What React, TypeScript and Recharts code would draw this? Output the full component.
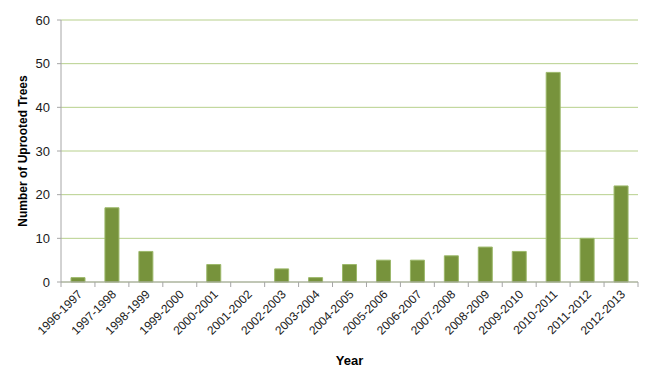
import React from 'react';
import { BarChart, Bar, XAxis, YAxis, CartesianGrid } from 'recharts';

const years = [
  '1996-1997', '1997-1998', '1998-1999', '1999-2000', '2000-2001', '2001-2002',
  '2002-2003', '2003-2004', '2004-2005', '2005-2006', '2006-2007', '2007-2008',
  '2008-2009', '2009-2010', '2010-2011', '2011-2012', '2012-2013',
];
const uprootedTrees = [1, 17, 7, 0, 4, 0, 3, 1, 4, 5, 5, 6, 8, 7, 48, 10, 22];
const yTicks = [0, 10, 20, 30, 40, 50, 60];

const data = years.map((year, i) => ({ year, trees: uprootedTrees[i] }));

const WIDTH = 650;
const HEIGHT = 374;
const MARGIN = { top: 20, right: 12, left: 0, bottom: 0 };
const Y_AXIS_WIDTH = 61;
const BAND = (WIDTH - MARGIN.left - MARGIN.right - Y_AXIS_WIDTH) / years.length;
const FONT = '"Liberation Sans", Arial, sans-serif';

// Excel-style category ticks: marks sit between the bars, labels at 45°
function YearTick(props: any) {
  const { x, y, payload, index } = props;
  const isLast = index === years.length - 1;
  return (
    <g>
      <line x1={x - BAND / 2} y1={y} x2={x - BAND / 2} y2={y + 5} stroke="#A6A6A6" />
      {isLast && <line x1={x + BAND / 2} y1={y} x2={x + BAND / 2} y2={y + 5} stroke="#A6A6A6" />}
      <text
        x={x + 5}
        y={y + 13}
        textAnchor="end"
        fill="#1a1a1a"
        fontSize={12}
        fontFamily={FONT}
        transform={`rotate(-45 ${x + 5} ${y + 13})`}
      >
        {payload.value}
      </text>
    </g>
  );
}

export default function App() {
  return (
    <div style={{ position: 'absolute', left: 0, top: 0, background: '#fff' }}>
      <BarChart width={WIDTH} height={HEIGHT} data={data} margin={MARGIN}>
        <CartesianGrid vertical={false} stroke="#B7D08C" strokeWidth={1} />
        <XAxis
          dataKey="year"
          height={HEIGHT - 282}
          interval={0}
          tickLine={false}
          tickSize={0}
          tickMargin={0}
          stroke="#A6A6A6"
          tick={<YearTick />}
          label={{
            value: 'Year',
            position: 'insideBottom',
            offset: 9,
            fill: '#000',
            fontSize: 13,
            fontWeight: 'bold',
            fontFamily: FONT,
          }}
        />
        <YAxis
          width={Y_AXIS_WIDTH}
          domain={[0, 60]}
          ticks={yTicks}
          interval={0}
          stroke="#A6A6A6"
          tickSize={4}
          tickMargin={7}
          tick={{ fill: '#1a1a1a', fontSize: 13, fontFamily: FONT }}
          label={{
            value: 'Number of Uprooted Trees',
            angle: -90,
            position: 'center',
            dx: -8,
            fill: '#000',
            fontSize: 12,
            fontWeight: 'bold',
            fontFamily: FONT,
          }}
        />
        <Bar
          dataKey="trees"
          fill="#77933C"
          stroke="#9CB86A"
          strokeWidth={1}
          barSize={14}
          isAnimationActive={false}
        />
      </BarChart>
    </div>
  );
}
